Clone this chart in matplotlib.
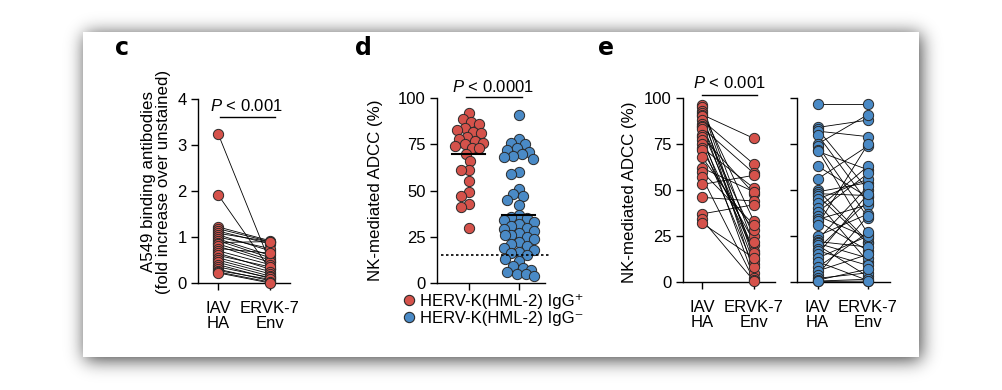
import numpy as np
import matplotlib
matplotlib.use("Agg")
import matplotlib.pyplot as plt
from matplotlib.lines import Line2D

plt.rcParams['font.family'] = ['Liberation Sans', 'DejaVu Sans']
plt.rcParams['mathtext.fontset'] = 'custom'
plt.rcParams['mathtext.rm'] = 'Liberation Sans'
plt.rcParams['mathtext.it'] = 'Liberation Sans:italic'
plt.rcParams['font.size'] = 12

RED = '#d5524b'
BLUE = '#4a8ac6'
EDGE = '#2a2a2a'

# panel c: A549 binding antibodies, paired
c_iav = [3.25, 1.92, 1.22, 1.18, 1.13, 1.08, 1.05, 1.00, 0.96, 0.92, 0.88, 0.85,
         0.80, 0.75, 0.70, 0.65, 0.60, 0.55, 0.50, 0.45, 0.40, 0.35, 0.30, 0.27,
         0.24, 0.22]
c_ervk = [0.45, 0.30, 0.92, 0.90, 0.85, 0.90, 0.70, 0.75, 0.60, 0.55, 0.90, 0.50,
          0.45, 0.65, 0.40, 0.30, 0.35, 0.25, 0.20, 0.15, 0.10, 0.12, 0.05, 0.08,
          0.02, 0.00]

# panel d: NK-mediated ADCC by serostatus
d_pos = [92, 89, 87, 86, 84, 83, 82, 81, 79, 78, 77, 76, 75, 74, 73, 73, 70, 66,
         61, 61, 55, 49, 47, 43, 41, 30]
d_neg = [91, 78, 76, 75, 73, 72, 71, 70, 69, 68, 67, 60, 59, 51, 48, 47, 45, 42,
         37, 36, 35, 34, 33, 32, 31, 30, 29, 28, 27, 26, 25, 26, 24, 22, 21, 20,
         19, 18, 17, 16, 15, 13, 12, 9, 8, 7, 6, 5, 5, 4]
d_cutoff = 15

# panel e: paired ADCC, IgG+ (left) and IgG- (right)
e_pos_iav = [96, 95, 93, 92, 91, 90, 88, 86, 85, 84, 83, 80, 79, 77, 75, 73, 72,
             68, 62, 60, 57, 53, 46, 37, 34, 32]
e_pos_ervk = [20, 12, 33, 5, 78, 15, 64, 10, 25, 59, 17, 2, 48, 16, 8, 51, 22,
              28, 49, 31, 1, 58, 44, 42, 0.5, 13]
e_neg_iav = [97, 84, 83, 82, 80, 75, 74, 72, 71, 63, 56, 50, 49, 48, 47, 45, 43,
             40, 38, 36, 34, 33, 31, 25, 23, 22, 21, 20, 18, 17, 15, 13, 11, 8,
             6, 4, 2, 1, 0.5, 0.3]
e_neg_ervk = [97, 88, 50, 79, 43, 91, 35, 26, 61, 46, 74, 22, 54, 47, 21, 56, 11,
              63, 59, 24, 42, 17, 75, 37, 52, 19, 13, 3, 44, 9, 48, 25, 0.8, 27,
              15, 36, 5, 7, 1.5, 0.5]

pair_labels = ['IAV\nHA', 'ERVK-7\nEnv']
legend_labels = ['HERV-K(HML-2) IgG\u207a', 'HERV-K(HML-2) IgG\u207b']

W, H = 1002, 390
fig = plt.figure(figsize=(W / 100, H / 100), dpi=100)

# background card with soft shadow
mask = np.zeros((H, W))
mask[34:360, 85:921] = 1
xs = np.arange(-40, 41)
kern = np.exp(-xs ** 2 / (2 * 9.0 ** 2))
kern /= kern.sum()
blur = np.apply_along_axis(lambda r: np.convolve(r, kern, mode='same'), 1, mask)
blur = np.apply_along_axis(lambda r: np.convolve(r, kern, mode='same'), 0, blur)
img = 1 - 0.75 * blur
img[32:357, 83:919] = 1
bg = fig.add_axes([0, 0, 1, 1])
bg.imshow(img, cmap='gray', vmin=0, vmax=1, extent=(0, W, H, 0), aspect='auto')
bg.set_axis_off()

MS = 7.4
FS = 12


def px_axes(x0, x1, ytop, ybot):
    return fig.add_axes([x0 / W, 1 - ybot / H, (x1 - x0) / W, (ybot - ytop) / H])


def style(ax, ylim, yticks):
    for s in ['top', 'right']:
        ax.spines[s].set_visible(False)
    for s in ['left', 'bottom']:
        ax.spines[s].set_linewidth(1.0)
    ax.set_ylim(*ylim)
    ax.set_yticks(yticks)
    ax.tick_params(direction='out', length=5, width=1.0, labelsize=FS, pad=3)
    ax.tick_params(axis='x', pad=8)
    ax.patch.set_alpha(0)


def paired(ax, a, b, color):
    for ya, yb in zip(a, b):
        ax.plot([0, 1], [ya, yb], color='black', lw=0.6, zorder=2, clip_on=False)
    ax.plot(np.zeros(len(a)), a, 'o', ms=MS, mfc=color, mec=EDGE, mew=0.7,
            zorder=3, clip_on=False)
    ax.plot(np.ones(len(b)), b, 'o', ms=MS, mfc=color, mec=EDGE, mew=0.7,
            zorder=3, clip_on=False)


def swarm(vals, xc, xppu, yppu, d, wmax):
    # place points next to each other, within +-wmax px of the centre
    cands = sorted(range(-wmax, wmax + 1), key=abs)
    pts = []
    out = []
    for v in vals:
        y = v * yppu
        best, bestd = 0, -1
        for off in cands:
            md = min([np.hypot(off - px, y - py) for px, py in pts] + [1e9])
            if md >= d:
                best = off
                break
            if md > bestd:
                best, bestd = off, md
        pts.append((best, y))
        out.append(xc + best / xppu)
    return out


def plabel(ax, x0, x1, ybar, xt, yt, txt):
    ax.plot([x0, x1], [ybar, ybar], color='black', lw=1.0, clip_on=False)
    ax.text(xt, yt, txt, ha='center', va='baseline', fontsize=FS)


# panel c
axc = px_axes(198, 290, 99, 283)
style(axc, (0, 4), [0, 1, 2, 3, 4])
axc.set_xlim(-0.385, 1.385)
paired(axc, c_iav, c_ervk, RED)
axc.set_xticks([0, 1])
axc.set_xticklabels(pair_labels, linespacing=1.0)
axc.set_ylabel('A549 binding antibodies\n(fold increase over unstained)',
               fontsize=12.2, linespacing=1.0)
axc.yaxis.set_label_coords(-0.29, 0.55)
plabel(axc, 0.04, 1.10, 3.61, 0.55, 3.74, '$P$ < 0.001')

# panel d
axd = px_axes(436.7, 545, 98.3, 283)
style(axd, (0, 100), [0, 25, 50, 75, 100])
axd.set_xlim(-0.646, 1.52)
for vals, xc, col in [(d_pos, 0, RED), (d_neg, 1, BLUE)]:
    xsw = swarm(vals, xc, 50, 1.847, 8.0, 15)
    axd.plot(xsw, vals, 'o', ms=MS, mfc=col, mec=EDGE, mew=0.7, zorder=3,
             clip_on=False)
    m = np.mean(vals)
    axd.plot([xc - 0.33, xc + 0.33], [m, m], color='black', lw=1.5, zorder=4)
axd.plot([-0.55, 1.62], [d_cutoff, d_cutoff], color='black', lw=1.2,
         ls=(0, (1.5, 1.5)), zorder=4, clip_on=False)
axd.set_xticks([0, 1])
axd.set_xticklabels(['', ''])
axd.set_ylabel('NK-mediated ADCC (%)', fontsize=12.2)
axd.yaxis.set_label_coords(-0.495, 0.5)
plabel(axd, -0.06, 1.06, 100.9, 0.48, 103.4, '$P$ < 0.0001')
handles = [Line2D([], [], ls='', marker='o', ms=MS, mfc=c, mec=EDGE, mew=0.8)
           for c in (RED, BLUE)]
fig.legend(handles, legend_labels, loc='upper left',
           bbox_to_anchor=(403 / W, 1 - 294 / H), frameon=False, fontsize=FS,
           handlelength=0.7, handletextpad=0.3, labelspacing=0.12,
           borderpad=0, borderaxespad=0)

# panel e
axe1 = px_axes(682.7, 775, 98, 282)
style(axe1, (0, 100), [0, 25, 50, 75, 100])
axe1.set_xlim(-0.371, 1.404)
paired(axe1, e_pos_iav, e_pos_ervk, RED)
axe1.set_xticks([0, 1])
axe1.set_xticklabels(pair_labels, linespacing=1.0)
axe1.set_ylabel('NK-mediated ADCC (%)', fontsize=12.2)
axe1.yaxis.set_label_coords(-0.5, 0.49)
plabel(axe1, 0.0, 1.06, 101.6, 0.52, 105.4, '$P$ < 0.001')

axe2 = px_axes(796.7, 890, 98, 282)
style(axe2, (0, 100), [0, 25, 50, 75, 100])
axe2.set_xlim(-0.417, 1.437)
paired(axe2, e_neg_iav, e_neg_ervk, BLUE)
axe2.set_xticks([0, 1])
axe2.set_xticklabels(pair_labels, linespacing=1.0)
axe2.set_yticklabels([])

for letter, x in [('c', 115), ('d', 355), ('e', 598)]:
    fig.text(x / W, 1 - 55 / H, letter, fontsize=17, fontweight='bold',
             va='baseline', ha='left', family='DejaVu Sans')

fig.savefig('out.png', dpi=100)
